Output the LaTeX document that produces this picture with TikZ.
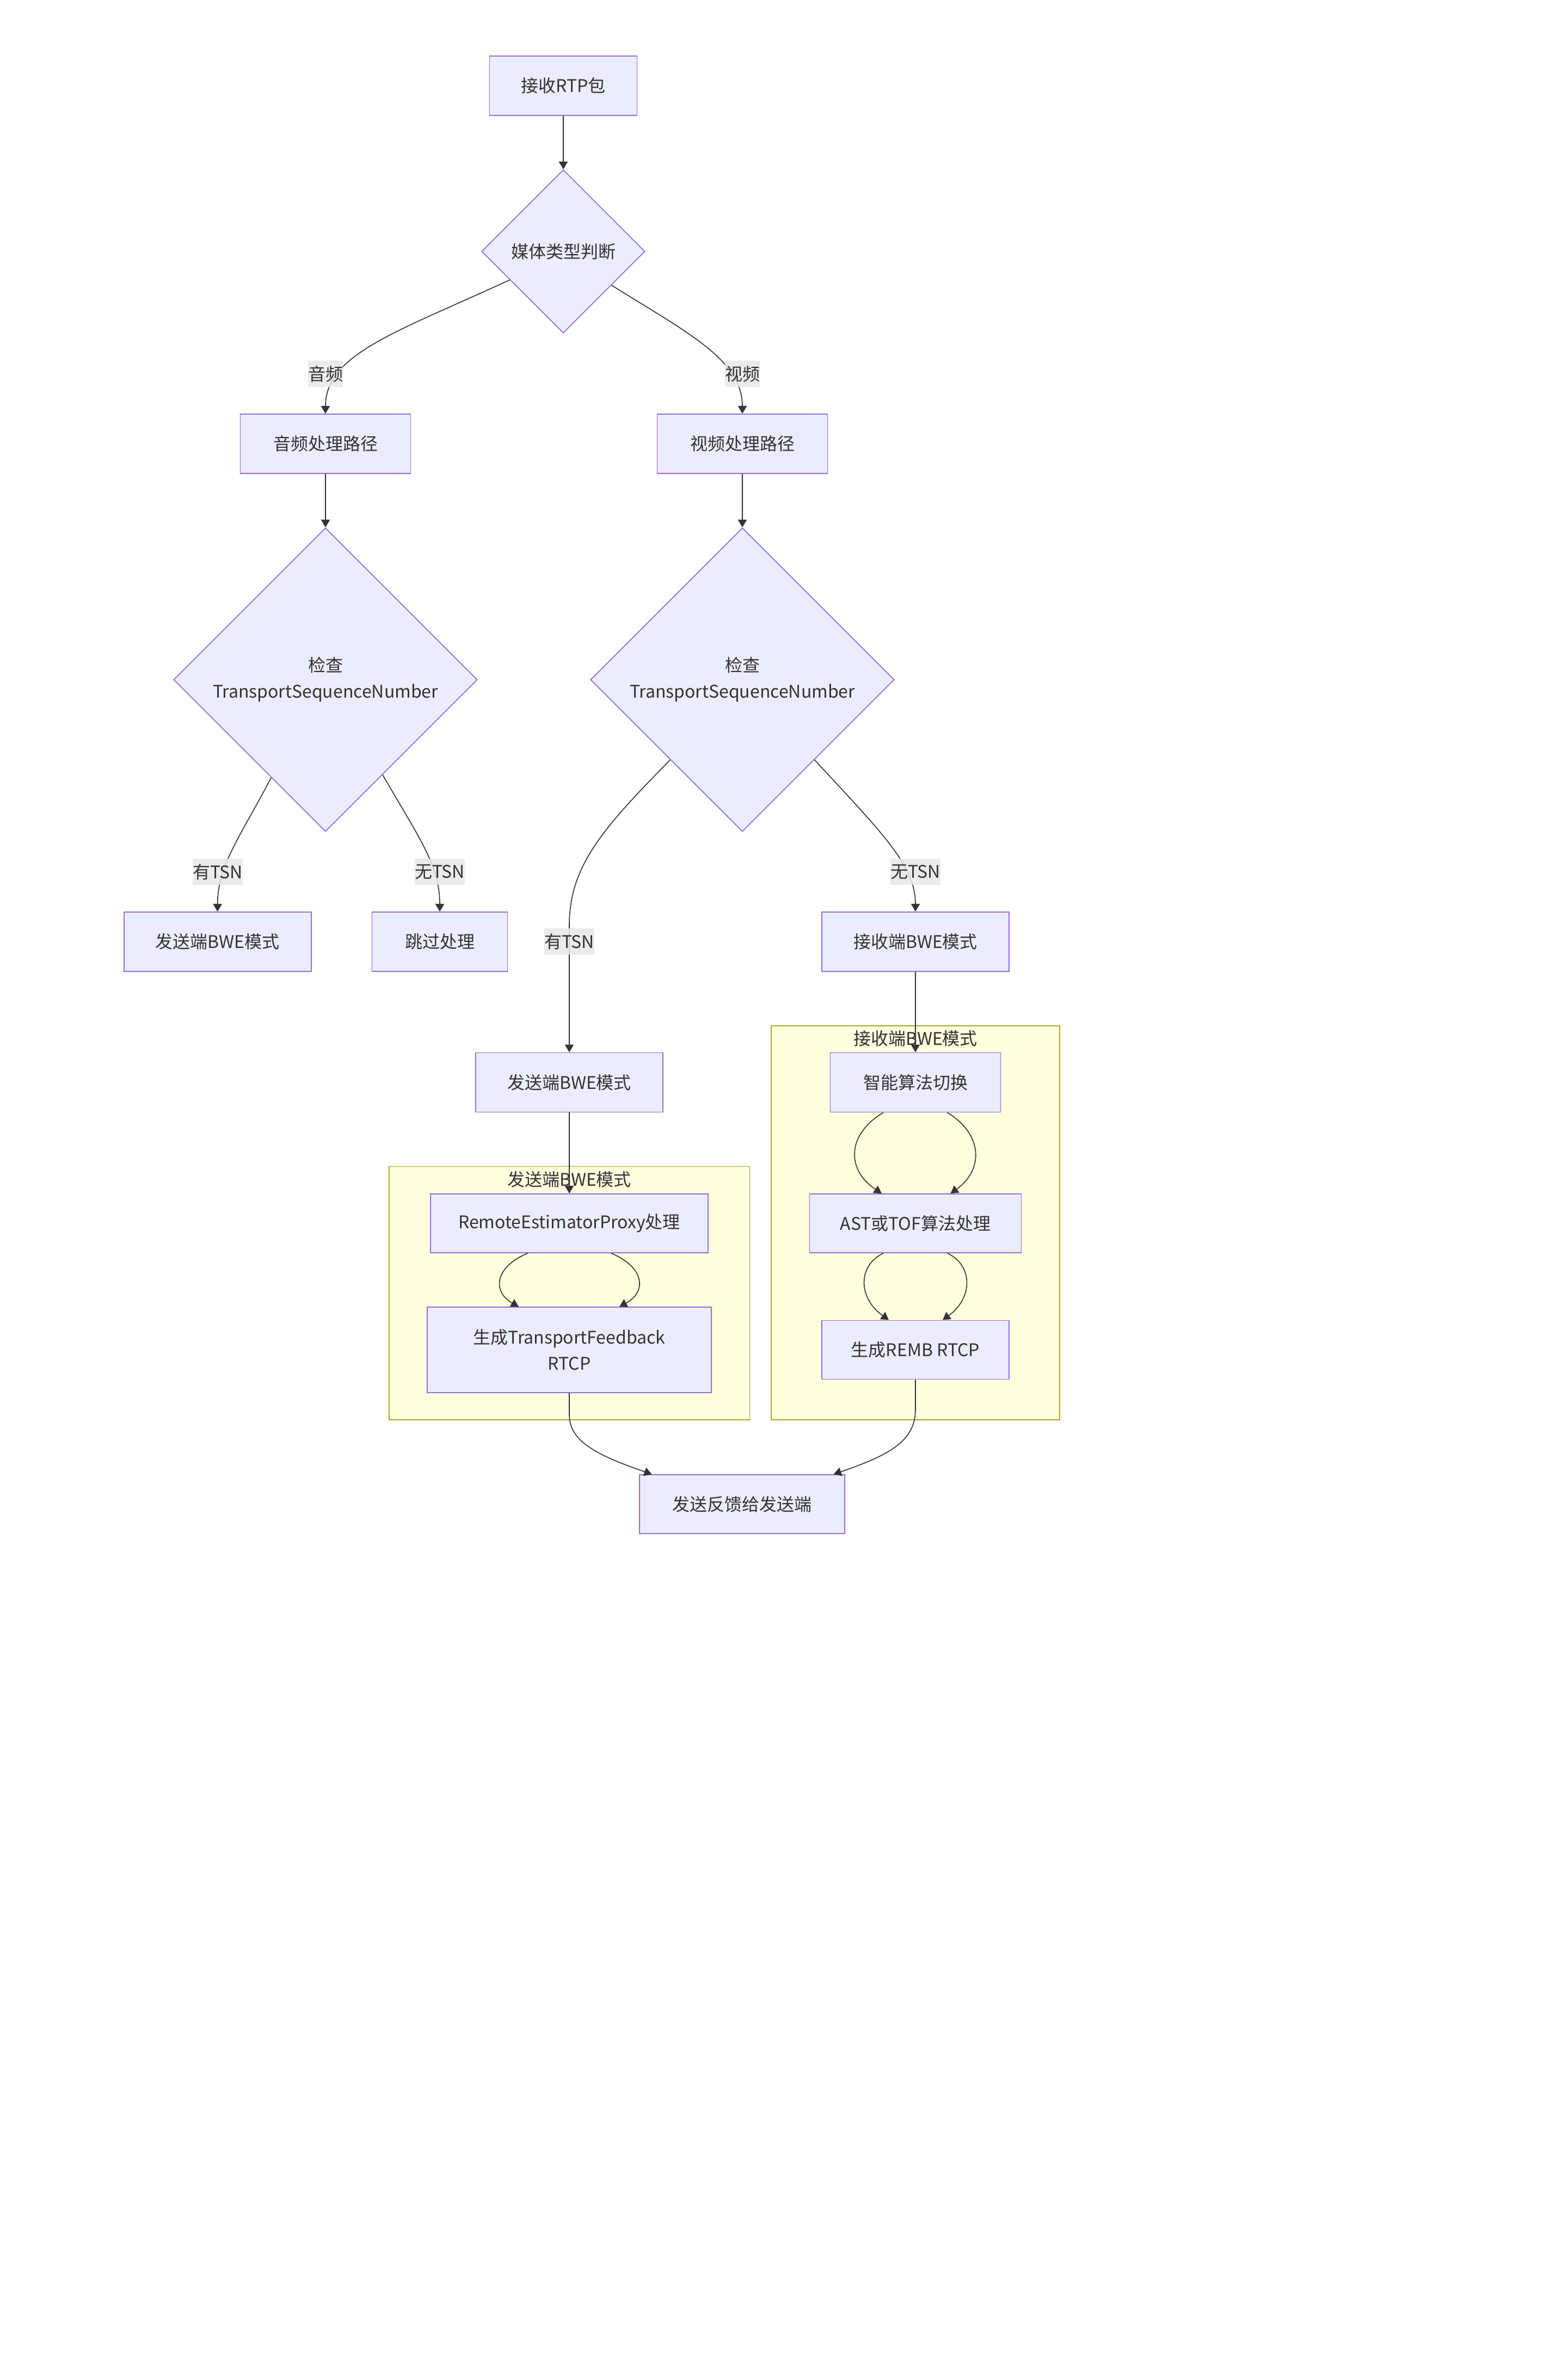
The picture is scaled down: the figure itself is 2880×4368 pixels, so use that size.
\documentclass[tikz,border=0pt]{standalone}
\usepackage{fontspec}
\setmainfont{Noto Sans CJK SC}
\usetikzlibrary{shapes.geometric,arrows.meta,calc}
\definecolor{nodefill}{HTML}{ECECFF}
\definecolor{nodeline}{HTML}{9370DB}
\definecolor{clusterfill}{HTML}{FFFFDE}
\definecolor{clusterline}{HTML}{AAAA33}
\definecolor{edgecol}{HTML}{333333}
\definecolor{labelbg}{HTML}{E8E8E8}
\definecolor{txt}{HTML}{333333}
\begin{document}
\begin{tikzpicture}[x=0.5pt,y=-0.5pt,
  every node/.style={font=\fontsize{16}{24}\selectfont, text=txt},
  box/.style={rectangle, draw=nodeline, fill=nodefill, line width=0.9pt, inner sep=0pt, align=center},
  dia/.style={diamond, aspect=1, draw=nodeline, fill=nodefill, line width=0.9pt, inner sep=0pt, align=center},
  cluster/.style={rectangle, draw=clusterline, fill=clusterfill, line width=0.9pt, inner sep=0pt},
  conn/.style={draw=edgecol, line width=0.8pt, -{Triangle[length=7pt,width=8pt]}},
  elabel/.style={fill=labelbg, inner sep=0pt, minimum height=24pt, fill opacity=0.85, text opacity=1}
]
\fill[white] (0,0) rectangle (2880,4368);
\useasboundingbox (0,0) rectangle (2880,4368);

% clusters
\node[cluster, minimum width=331.25pt, minimum height=232.75pt] (cl1) at (1046.25,2376.25) {};
\node[cluster, minimum width=265pt, minimum height=362pt] (cl2) at (1682,2247) {};
\node (cl1t) at (1046,2167) {发送端BWE模式};
\node (cl2t) at (1682,1908) {接收端BWE模式};

% nodes
\node[box, minimum width=135.5pt, minimum height=54.5pt] (rtp) at (1035,157.5) {接收RTP包};
\node[dia, minimum width=150pt, minimum height=150pt] (media) at (1035,462) {媒体类型判断};
\node[box, minimum width=156.5pt, minimum height=54.5pt] (audio) at (598,815.5) {音频处理路径};
\node[box, minimum width=156.5pt, minimum height=54.5pt] (video) at (1364,815.5) {视频处理路径};
\node[dia, minimum width=279pt, minimum height=279pt] (achk) at (598,1249) {检查\\TransportSequenceNumber};
\node[dia, minimum width=279pt, minimum height=279pt] (vchk) at (1364,1249) {检查\\TransportSequenceNumber};
\node[box, minimum width=172pt, minimum height=54.5pt] (asend) at (399.6,1730.5) {发送端BWE模式};
\node[box, minimum width=124.5pt, minimum height=54.5pt] (skip) at (808,1730.5) {跳过处理};
\node[box, minimum width=172pt, minimum height=54.5pt] (vrecv) at (1682,1730.5) {接收端BWE模式};
\node[box, minimum width=172pt, minimum height=54.5pt] (vsend) at (1046,1989) {发送端BWE模式};
\node[box, minimum width=255pt, minimum height=54pt] (remote) at (1046,2248) {RemoteEstimatorProxy处理};
\node[box, minimum width=261pt, minimum height=78.5pt] (tfb) at (1046,2480.5) {生成TransportFeedback\\RTCP};
\node[box, minimum width=156.5pt, minimum height=54.5pt] (smart) at (1682,1989) {智能算法切换};
\node[box, minimum width=194.5pt, minimum height=54pt] (ast) at (1682,2248) {AST或TOF算法处理};
\node[box, minimum width=172pt, minimum height=54pt] (remb) at (1682,2480.5) {生成REMB RTCP};
\node[box, minimum width=188.5pt, minimum height=54pt] (fb) at (1363.7,2764) {发送反馈给发送端};

% edges
\draw[conn] (rtp) -- (media);
\draw[conn] (media.208) .. controls (730,610) and (598,650) .. (audio.north);
\draw[conn] (media.325) .. controls (1260,610) and (1364,660) .. (video.north);
\draw[conn] (audio) -- (achk);
\draw[conn] (video) -- (vchk);
\draw[conn] (achk.241) .. controls (440,1540) and (400,1590) .. (asend.north);
\draw[conn] (achk.301) .. controls (770,1540) and (808,1590) .. (skip.north);
\draw[conn] (vchk.228.4) .. controls (1110,1520) and (1046,1590) .. (1046,1700) -- (vsend.north);
\draw[conn] (vchk.312) .. controls (1620,1530) and (1682,1590) .. (vrecv.north);
\draw[conn] (vrecv) -- (smart);
\draw[conn] (vsend) -- (remote);
\draw[conn] ($(remote.south)+(-76.5,0)$) .. controls (906,2330) and (906,2375) .. ($(tfb.north)+(-93,0)$);
\draw[conn] ($(remote.south)+(77,0)$) .. controls (1187,2330) and (1187,2375) .. ($(tfb.north)+(92,0)$);
\draw[conn] ($(smart.south)+(-59,0)$) .. controls (1555,2085) and (1555,2150) .. ($(ast.north)+(-62,0)$);
\draw[conn] ($(smart.south)+(58.6,0)$) .. controls (1807,2085) and (1807,2150) .. ($(ast.north)+(64.5,0)$);
\draw[conn] ($(ast.south)+(-59,0)$) .. controls (1576,2325) and (1576,2385) .. ($(remb.north)+(-49,0)$);
\draw[conn] ($(ast.south)+(58.6,0)$) .. controls (1788,2325) and (1788,2385) .. ($(remb.north)+(50,0)$);
\draw[conn] (tfb.south) -- (1046,2600) .. controls (1046,2650) and (1100,2675) .. ($(fb.north)+(-166,0)$);
\draw[conn] (remb.south) -- (1682,2590) .. controls (1682,2650) and (1630,2675) .. ($(fb.north)+(168,0)$);

% edge labels
\node[elabel] (l1) at (598,687) {音频};
\node[elabel] (l2) at (1364,687) {视频};
\node[elabel] (l3) at (400,1602) {有TSN};
\node[elabel] (l4) at (808,1602) {无TSN};
\node[elabel] (l5) at (1046,1730) {有TSN};
\node[elabel] (l6) at (1682,1602) {无TSN};
\end{tikzpicture}
\end{document}
